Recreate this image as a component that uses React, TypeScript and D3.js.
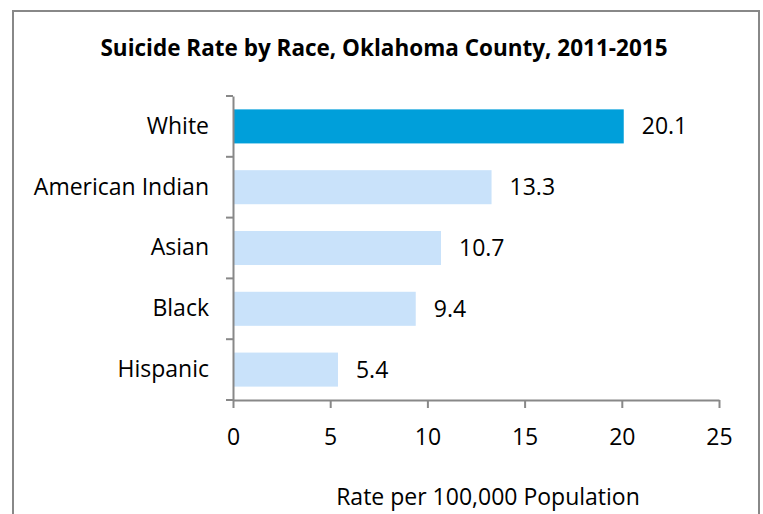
import React, { useEffect, useRef } from 'react';
import * as d3 from 'd3';

const races = ['White', 'American Indian', 'Asian', 'Black', 'Hispanic'];
const rates = [20.1, 13.3, 10.7, 9.4, 5.4];
const xTicks = [0, 5, 10, 15, 20, 25];

const FONT = "'Open Sans', sans-serif";

const App: React.FC = () => {
  const svgRef = useRef<SVGSVGElement>(null);

  useEffect(() => {
    if (!svgRef.current) return;
    const svg = d3.select(svgRef.current);
    svg.selectAll('*').remove();

    const width = 763;
    const height = 514;

    // chart frame
    svg.append('rect')
      .attr('x', 13)
      .attr('y', 11)
      .attr('width', 746)
      .attr('height', 520)
      .attr('fill', '#fff')
      .attr('stroke', '#888')
      .attr('stroke-width', 2);

    const xScale = d3.scaleLinear().domain([0, 25]).range([233, 719]);
    const yScale = d3.scaleBand().domain(races).range([96, 400]).paddingInner(0.44).paddingOuter(0.22);
    const bandOuter = d3.scaleBand().domain(races).range([96, 400]);

    // title
    svg.append('text')
      .attr('x', 384)
      .attr('y', 56)
      .attr('text-anchor', 'middle')
      .style('font-family', FONT)
      .style('font-size', '22.5px')
      .style('font-weight', 'bold')
      .text('Suicide Rate by Race, Oklahoma County, 2011-2015');

    // bars
    svg.selectAll('.bar')
      .data(races)
      .enter()
      .append('rect')
      .attr('class', 'bar')
      .attr('x', xScale(0))
      .attr('y', d => yScale(d) || 0)
      .attr('width', (d, i) => xScale(rates[i]) - xScale(0))
      .attr('height', yScale.bandwidth())
      .attr('fill', (d, i) => (i === 0 ? '#009FDA' : '#C9E2FA'));

    // value labels
    svg.selectAll('.val')
      .data(races)
      .enter()
      .append('text')
      .attr('class', 'val')
      .attr('x', (d, i) => xScale(rates[i]) + 18)
      .attr('y', d => (bandOuter(d) || 0) + bandOuter.bandwidth() / 2)
      .attr('dy', '0.35em')
      .style('font-family', FONT)
      .style('font-size', '23px')
      .attr('fill', '#000')
      .text((d, i) => rates[i].toFixed(1));

    // y axis
    const yAxis = svg.append('g')
      .attr('transform', `translate(${xScale(0)},0)`)
      .call(
        d3.axisLeft(bandOuter)
          .tickSize(0)
          .tickPadding(24)
      );
    yAxis.select('.domain').attr('stroke', '#888').attr('stroke-width', 2);
    yAxis.selectAll('.tick text')
      .style('font-family', FONT)
      .style('font-size', '23px')
      .attr('fill', '#000');
    // category separators
    const bounds = [...races.map(r => bandOuter(r) || 0), 400];
    yAxis.selectAll('.sep')
      .data(bounds)
      .enter()
      .append('line')
      .attr('class', 'sep')
      .attr('x1', -7)
      .attr('x2', 0)
      .attr('y1', d => d)
      .attr('y2', d => d)
      .attr('stroke', '#888')
      .attr('stroke-width', 2);

    // x axis
    const xAxis = svg.append('g')
      .attr('transform', 'translate(0,400)')
      .call(
        d3.axisBottom(xScale)
          .tickValues(xTicks)
          .tickSizeInner(8)
          .tickSizeOuter(0)
          .tickPadding(21)
          .tickFormat(d3.format('d'))
      );
    xAxis.select('.domain').attr('stroke', '#888').attr('stroke-width', 2);
    xAxis.selectAll('.tick line').attr('stroke', '#888').attr('stroke-width', 2);
    xAxis.selectAll('.tick text')
      .style('font-family', FONT)
      .style('font-size', '23px')
      .attr('fill', '#000');

    // x axis title
    svg.append('text')
      .attr('x', 488)
      .attr('y', 505)
      .attr('text-anchor', 'middle')
      .style('font-family', FONT)
      .style('font-size', '23px')
      .attr('fill', '#000')
      .text('Rate per 100,000 Population');

    svg.attr('width', width).attr('height', height);
  }, []);

  return (
    <svg
      ref={svgRef}
      width={763}
      height={514}
      style={{ position: 'absolute', left: 0, top: 0, background: '#fff' }}
    />
  );
};

export default App;
